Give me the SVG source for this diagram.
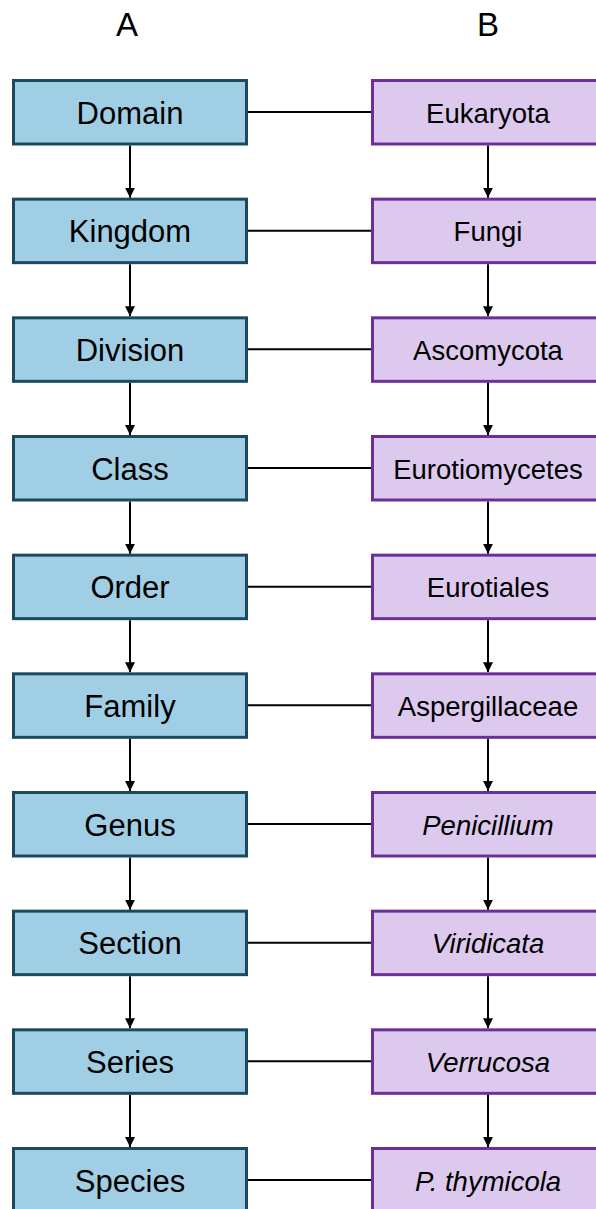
<svg xmlns="http://www.w3.org/2000/svg" width="596" height="1209" viewBox="0 0 596 1209">
<style>
.a{fill:#A0CFE5;stroke:#1B4A5F;stroke-width:3}
.b{fill:#DDC9EE;stroke:#6B2F9C;stroke-width:3}
.ta{font-family:"Liberation Sans",Arial,sans-serif;font-size:31px;text-anchor:middle;fill:#000}
.tb{font-family:"Liberation Sans",Arial,sans-serif;font-size:27.5px;text-anchor:middle;fill:#000}
.i{font-style:italic}
.h{font-family:"Liberation Sans",Arial,sans-serif;font-size:33px;text-anchor:middle;fill:#000}
.c{stroke:#000;stroke-width:2;fill:none}
</style>
<defs>
<marker id="ar" viewBox="0 0 10 10" refX="10" refY="5" markerWidth="10" markerHeight="10" markerUnits="userSpaceOnUse" orient="auto">
<path d="M0,0 L10,5 L0,10 z" fill="#000"/>
</marker>
</defs>
<rect width="596" height="1209" fill="#fff"/>
<text class="h" x="127" y="36">A</text>
<text class="h" x="488" y="36">B</text>
<g id="connectors">
<path class="c" d="M247,112H372M247,230.7H372M247,349.3H372M247,468H372M247,586.7H372M247,705.3H372M247,824H372M247,942.7H372M247,1061.3H372M247,1180H372"/>
<path class="c" marker-end="url(#ar)" d="M130,145.5V197.7"/>
<path class="c" marker-end="url(#ar)" d="M130,264.2V316.3"/>
<path class="c" marker-end="url(#ar)" d="M130,382.8V435"/>
<path class="c" marker-end="url(#ar)" d="M130,501.5V553.7"/>
<path class="c" marker-end="url(#ar)" d="M130,620.2V672.3"/>
<path class="c" marker-end="url(#ar)" d="M130,738.8V791"/>
<path class="c" marker-end="url(#ar)" d="M130,857.5V909.7"/>
<path class="c" marker-end="url(#ar)" d="M130,976.2V1028.3"/>
<path class="c" marker-end="url(#ar)" d="M130,1094.8V1147"/>
<path class="c" marker-end="url(#ar)" d="M488,145.5V197.7"/>
<path class="c" marker-end="url(#ar)" d="M488,264.2V316.3"/>
<path class="c" marker-end="url(#ar)" d="M488,382.8V435"/>
<path class="c" marker-end="url(#ar)" d="M488,501.5V553.7"/>
<path class="c" marker-end="url(#ar)" d="M488,620.2V672.3"/>
<path class="c" marker-end="url(#ar)" d="M488,738.8V791"/>
<path class="c" marker-end="url(#ar)" d="M488,857.5V909.7"/>
<path class="c" marker-end="url(#ar)" d="M488,976.2V1028.3"/>
<path class="c" marker-end="url(#ar)" d="M488,1094.8V1147"/>
</g>
<g id="domain"><rect class="a" x="13.5" y="80.5" width="233" height="63.5"/><text class="ta" x="130" y="123.5">Domain</text></g>
<g id="eukaryota"><rect class="b" x="372.5" y="80.5" width="231" height="63.5"/><text class="tb" x="488" y="122.5">Eukaryota</text></g>
<g transform="translate(0,118.67)">
<g id="kingdom"><rect class="a" x="13.5" y="80.5" width="233" height="63.5"/><text class="ta" x="130" y="123.5">Kingdom</text></g>
<g id="fungi"><rect class="b" x="372.5" y="80.5" width="231" height="63.5"/><text class="tb" x="488" y="122.5">Fungi</text></g>
</g>
<g transform="translate(0,237.33)">
<g id="division"><rect class="a" x="13.5" y="80.5" width="233" height="63.5"/><text class="ta" x="130" y="123.5">Division</text></g>
<g id="ascomycota"><rect class="b" x="372.5" y="80.5" width="231" height="63.5"/><text class="tb" x="488" y="122.5">Ascomycota</text></g>
</g>
<g transform="translate(0,356)">
<g id="class"><rect class="a" x="13.5" y="80.5" width="233" height="63.5"/><text class="ta" x="130" y="123.5">Class</text></g>
<g id="eurotiomycetes"><rect class="b" x="372.5" y="80.5" width="231" height="63.5"/><text class="tb" x="488" y="122.5">Eurotiomycetes</text></g>
</g>
<g transform="translate(0,474.67)">
<g id="order"><rect class="a" x="13.5" y="80.5" width="233" height="63.5"/><text class="ta" x="130" y="123.5">Order</text></g>
<g id="eurotiales"><rect class="b" x="372.5" y="80.5" width="231" height="63.5"/><text class="tb" x="488" y="122.5">Eurotiales</text></g>
</g>
<g transform="translate(0,593.33)">
<g id="family"><rect class="a" x="13.5" y="80.5" width="233" height="63.5"/><text class="ta" x="130" y="123.5">Family</text></g>
<g id="aspergillaceae"><rect class="b" x="372.5" y="80.5" width="231" height="63.5"/><text class="tb" x="488" y="122.5">Aspergillaceae</text></g>
</g>
<g transform="translate(0,712)">
<g id="genus"><rect class="a" x="13.5" y="80.5" width="233" height="63.5"/><text class="ta" x="130" y="123.5">Genus</text></g>
<g id="penicillium"><rect class="b" x="372.5" y="80.5" width="231" height="63.5"/><text class="tb i" x="488" y="122.5">Penicillium</text></g>
</g>
<g transform="translate(0,830.67)">
<g id="section"><rect class="a" x="13.5" y="80.5" width="233" height="63.5"/><text class="ta" x="130" y="123.5">Section</text></g>
<g id="viridicata"><rect class="b" x="372.5" y="80.5" width="231" height="63.5"/><text class="tb i" x="488" y="122.5">Viridicata</text></g>
</g>
<g transform="translate(0,949.33)">
<g id="series"><rect class="a" x="13.5" y="80.5" width="233" height="63.5"/><text class="ta" x="130" y="123.5">Series</text></g>
<g id="verrucosa"><rect class="b" x="372.5" y="80.5" width="231" height="63.5"/><text class="tb i" x="488" y="122.5">Verrucosa</text></g>
</g>
<g transform="translate(0,1068)">
<g id="species"><rect class="a" x="13.5" y="80.5" width="233" height="63.5"/><text class="ta" x="130" y="123.5">Species</text></g>
<g id="p-thymicola"><rect class="b" x="372.5" y="80.5" width="231" height="63.5"/><text class="tb i" x="488" y="122.5">P. thymicola</text></g>
</g>
</svg>
